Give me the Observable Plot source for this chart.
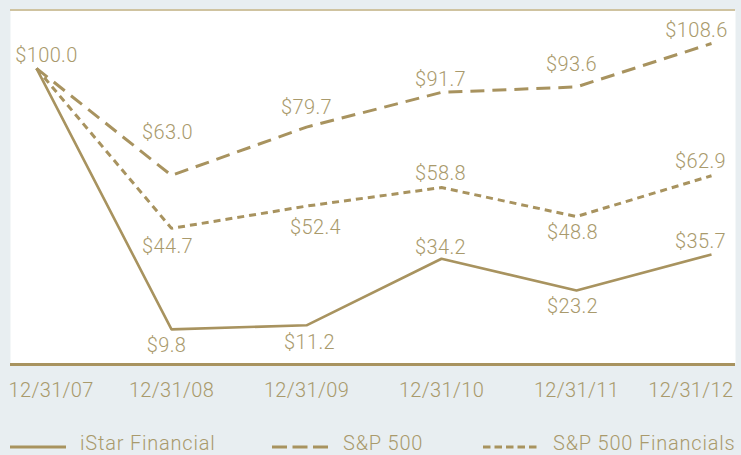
<!DOCTYPE html>
<html>
<head>
<meta charset="utf-8">
<script src="https://cdn.jsdelivr.net/npm/d3@7"></script>
<script src="https://cdn.jsdelivr.net/npm/@observablehq/plot@0.6"></script>
<style>
  html, body { margin: 0; padding: 0; }
  body { background: #e8eef1; width: 741px; height: 455px; overflow: hidden; position: relative;
         font-family: Roboto, "Noto Sans", sans-serif; font-weight: 300; color: #a99a6c; }
  #chart svg { display: block; }
  .leg { position: absolute; top: 431px; height: 24px; font-size: 20px; line-height: 24px; letter-spacing: 0.8px; white-space: nowrap; }
  .leg svg { position: absolute; top: 0; }
</style>
</head>
<body>
<div id="chart"></div>
<div id="legend"></div>
<script>
// ---- data ----
const dates = ["12/31/07", "12/31/08", "12/31/09", "12/31/10", "12/31/11", "12/31/12"];
const seriesNames = ["iStar Financial", "S&P 500", "S&P 500 Financials"];
const istar = [100.0, 9.8, 11.2, 34.2, 23.2, 35.7];
const sp500 = [100.0, 63.0, 79.7, 91.7, 93.6, 108.6];
const spFin = [100.0, 44.7, 52.4, 58.8, 48.8, 62.9];

// ---- layout (label offsets in px, per series/point; null = no label) ----
const offIstar = [null, [-5, 16], [3, 17], [-1, -11], [-4, 16], [-11, -13]];
const offSp500 = [[10, -13], [-4, -43], [0, -20], [-1, -13], [-5, -22], [-15, -13]];
const offFin   = [null, [-4, 18], [9, 21], [-1, -14], [-4, 16], [-11, -14]];

const lineColor = "#a8935f";
const textColor = "#a99a6c";
const dashes = ["none", "14,8", "7,5"];

const seriesValues = [istar, sp500, spFin];
const seriesOffsets = [offIstar, offSp500, offFin];

const rows = seriesNames.flatMap((name, s) =>
  dates.map((date, i) => ({series: name, date, value: seriesValues[s][i], off: seriesOffsets[s][i]})));

const fmt = v => "$" + v.toFixed(1);
const font = "Roboto, 'Noto Sans', sans-serif";
const textStyle = {fill: textColor, fontSize: 20, fontWeight: 300};

const labelMarks = rows.filter(r => r.off).map(r =>
  Plot.text([r], {x: "date", y: "value", text: d => fmt(d.value), dx: r.off[0], dy: r.off[1], ...textStyle}));

const plot = Plot.plot({
  width: 741,
  height: 415,
  marginLeft: 35,
  marginRight: 29,
  marginTop: 10,
  marginBottom: 52,
  style: {background: "transparent", fontFamily: font, letterSpacing: "0.35px"},
  x: {type: "point", domain: dates, padding: 0, axis: null},
  y: {domain: [-2, 120], axis: null},
  marks: [
    Plot.frame({fill: "white", stroke: null, insetLeft: -25, insetRight: -23}),
    Plot.ruleY([120], {stroke: "#cfc3a0", strokeWidth: 2, insetLeft: -25, insetRight: -23, dy: -0.5}),
    Plot.ruleY([-2], {stroke: lineColor, strokeWidth: 3, insetLeft: -25, insetRight: -23, dy: 1}),
    ...seriesNames.map((name, s) =>
      Plot.line(rows.filter(r => r.series === name), {x: "date", y: "value",
        stroke: lineColor, strokeWidth: s === 0 ? 2.6 : 3, strokeDasharray: dashes[s],
        strokeLinejoin: "miter", strokeLinecap: "butt"})),
    ...labelMarks,
    Plot.text(dates.slice(0, 1), {x: d => d, frameAnchor: "bottom", dy: 33, dx: -28, textAnchor: "start", ...textStyle}),
    Plot.text(dates.slice(1, -1), {x: d => d, frameAnchor: "bottom", dy: 33, ...textStyle}),
    Plot.text(dates.slice(-1), {x: d => d, frameAnchor: "bottom", dy: 33, dx: 22, textAnchor: "end", ...textStyle})
  ]
});
document.getElementById("chart").appendChild(plot);

// ---- legend ----
const legendLeft = [10, 272, 483];
const legendTextLeft = [70, 71, 70];
const legend = document.getElementById("legend");
seriesNames.forEach((name, s) => {
  const item = document.createElement("div");
  item.className = "leg";
  item.style.left = legendLeft[s] + "px";
  item.innerHTML = `<svg width="57" height="24"><line x1="0" x2="56" y1="16" y2="16" stroke="${lineColor}"
     stroke-width="3" stroke-dasharray="${s === 0 ? "none" : (s === 1 ? "15,5.5" : "7.5,4")}"/></svg>
     <span style="position:absolute;left:${legendTextLeft[s]}px;top:0">${name.replace("&", "&amp;")}</span>`;
  legend.appendChild(item);
});
</script>
</body>
</html>
